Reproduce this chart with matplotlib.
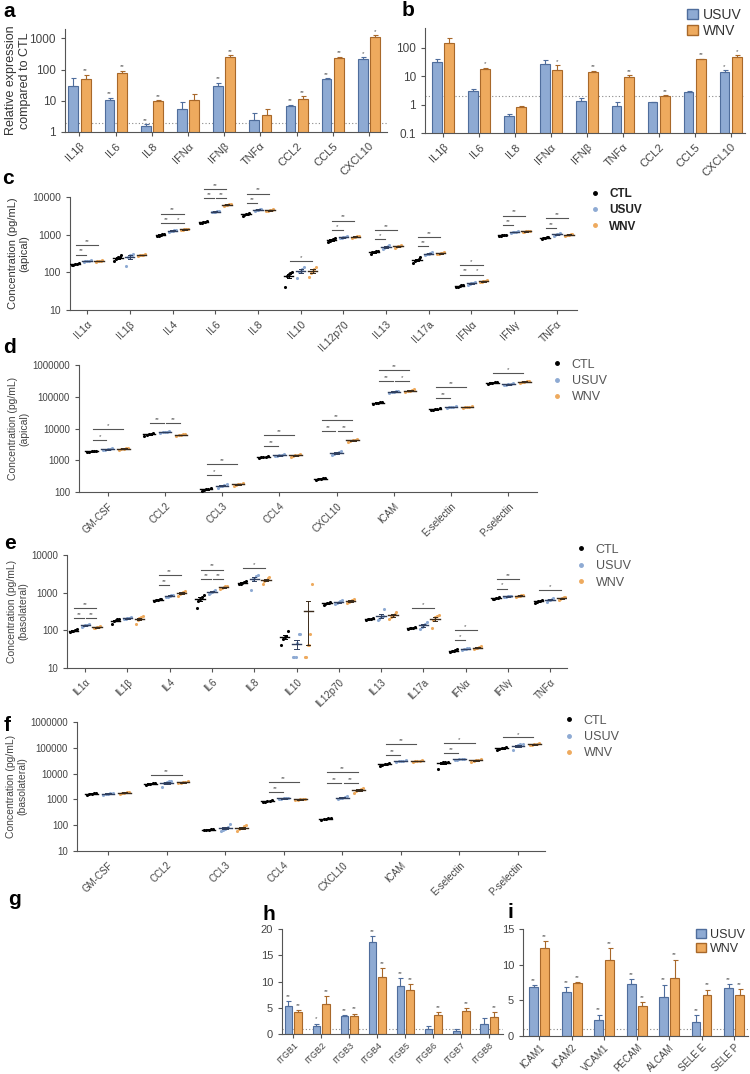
import numpy as np
import matplotlib
matplotlib.use("Agg")
from matplotlib import pyplot as plt
from matplotlib.patches import Patch
from matplotlib.lines import Line2D
from matplotlib.ticker import FixedLocator, NullLocator, FuncFormatter

plt.rcParams["font.family"] = ["Liberation Sans", "DejaVu Sans"]

# ---------------- data ----------------
ab_genes = ["IL1β", "IL6", "IL8", "IFNα", "IFNβ", "TNFα", "CCL2", "CCL5", "CXCL10"]

a_usuv = [30, 11, 1.6, 5.6, 30, 2.5, 7, 50, 215]
a_usuv_err = [23, 1.3, 0.15, 3.4, 7, 1.6, 0.5, 3, 30]
a_wnv = [49, 80, 9.6, 11, 245, 3.4, 11.5, 230, 1120]
a_wnv_err = [18, 10, 0.7, 6, 45, 2.1, 2.5, 30, 140]
a_usuv_sig = ["", "**", "**", "", "**", "", "**", "**", "*"]
a_wnv_sig = ["**", "**", "**", "", "**", "", "**", "**", "*"]

b_usuv = [31.6, 2.9, 0.41, 26, 1.38, 0.87, 1.2, 2.7, 13.8]
b_usuv_err = [10, 0.6, 0.04, 11, 0.27, 0.37, 0.07, 0.4, 2.8]
b_wnv = [149, 18, 0.83, 16, 14.5, 9.7, 2.0, 41, 48]
b_wnv_err = [80, 2, 0.09, 8, 1.2, 1.3, 0.1, 1, 6]
b_usuv_sig = ["", "", "", "", "", "", "", "", "*"]
b_wnv_sig = ["", "*", "", "*", "**", "**", "**", "**", "*"]

cyto = ["IL1α", "IL1β", "IL4", "IL6", "IL8", "IL10", "IL12p70", "IL13",
        "IL17a", "IFNα", "IFNγ", "TNFα"]
adhes = ["GM-CSF", "CCL2", "CCL3", "CCL4", "CXCL10", "ICAM", "E-selectin", "P-selectin"]

c_ctl = [[155, 160, 165, 170, 175], [200, 230, 250, 260, 280], [900, 950, 1000, 1020, 1060],
         [2050, 2100, 2150, 2200, 2250], [3200, 3400, 3500, 3600, 3800], [42, 80, 88, 95, 100],
         [620, 680, 720, 760, 800], [300, 340, 350, 360, 370], [180, 195, 210, 225, 250],
         [40, 42, 43, 45, 47], [900, 940, 960, 990, 1010], [760, 800, 830, 860, 880]]
c_usuv = [[190, 195, 200, 205, 210], [150, 260, 280, 290, 310], [1200, 1250, 1280, 1300, 1350],
          [3900, 4000, 4100, 4150, 4200], [4200, 4400, 4600, 4800, 4900], [70, 100, 110, 125, 140],
          [800, 840, 860, 880, 900], [420, 450, 470, 490, 520], [290, 305, 315, 325, 340],
          [47, 49, 51, 53, 55], [1100, 1150, 1180, 1210, 1250], [950, 990, 1020, 1050, 1080]]
c_wnv = [[190, 195, 200, 205, 210], [270, 280, 290, 295, 300], [1300, 1350, 1380, 1400, 1450],
         [5800, 6000, 6200, 6400, 6600], [4200, 4350, 4500, 4600, 4700], [75, 95, 110, 125, 140],
         [820, 860, 890, 910, 940], [450, 470, 490, 510, 530], [300, 315, 325, 335, 345],
         [54, 56, 58, 60, 62], [1150, 1200, 1220, 1250, 1280], [950, 980, 1000, 1020, 1050]]
c_sig = [[(0, 1, "**"), (0, 2, "**")], [], [(0, 1, "**"), (1, 2, "*"), (0, 2, "**")],
         [(0, 1, "**"), (1, 2, "**"), (0, 2, "**")], [(0, 1, "**"), (0, 2, "**")], [(0, 2, "*")],
         [(0, 1, "*"), (0, 2, "**")], [(0, 1, "*"), (0, 2, "**")], [(0, 1, "**"), (0, 2, "**")],
         [(0, 1, "**"), (1, 2, "*"), (0, 2, "*")], [(0, 1, "**"), (0, 2, "**")],
         [(0, 1, "**"), (0, 2, "**")]]

d_ctl = [[1800, 1870, 1920, 1960, 2000], [6000, 6400, 6600, 6800, 7100], [105, 112, 120, 128, 135],
         [1180, 1230, 1270, 1300, 1340], [245, 255, 265, 270, 280],
         [60000, 63000, 65000, 67000, 70000], [37000, 39000, 40000, 41000, 43000],
         [255000, 265000, 275000, 285000, 295000]]
d_usuv = [[2050, 2150, 2220, 2280, 2350], [7200, 7500, 7800, 8000, 8300], [135, 150, 160, 170, 180],
          [1350, 1400, 1440, 1480, 1520], [1500, 1600, 1700, 1800, 1900],
          [135000, 140000, 145000, 150000, 155000], [45000, 47000, 48000, 49000, 51000],
          [230000, 240000, 250000, 260000, 270000]]
d_wnv = [[2150, 2250, 2330, 2400, 2480], [5800, 6100, 6300, 6500, 6800], [160, 170, 178, 185, 195],
         [1300, 1400, 1440, 1480, 1560], [3800, 4100, 4300, 4500, 4800],
         [140000, 150000, 155000, 160000, 170000], [45000, 47000, 48000, 49000, 51000],
         [270000, 285000, 295000, 305000, 320000]]
d_sig = [[(0, 1, "*"), (0, 2, "*")], [(0, 1, "**"), (1, 2, "**")], [(0, 1, "*"), (0, 2, "**")],
         [(0, 1, "**"), (0, 2, "**")], [(0, 1, "**"), (1, 2, "**"), (0, 2, "**")],
         [(0, 1, "**"), (1, 2, "*"), (0, 2, "**")], [(0, 1, "**"), (0, 2, "**")], [(0, 2, "*")]]

e_ctl = [[90, 95, 98, 102, 106], [150, 175, 185, 195, 205], [600, 630, 650, 670, 700],
         [400, 600, 700, 780, 850], [1650, 1750, 1850, 1950, 2050], [40, 60, 65, 70, 95],
         [470, 500, 520, 540, 570], [190, 195, 200, 205, 210], [108, 112, 115, 118, 122],
         [27, 28, 29, 30, 31], [680, 700, 720, 740, 760], [540, 570, 590, 610, 640]]
e_usuv = [[125, 130, 135, 140, 145], [195, 205, 210, 215, 230], [760, 790, 820, 850, 880],
          [950, 1000, 1060, 1100, 1150], [1200, 2300, 2500, 2700, 3000], [20, 20, 20, 45, 80, 80],
          [500, 530, 560, 590, 620], [190, 205, 220, 240, 370], [110, 120, 130, 150, 170],
          [30, 31, 32, 33, 34], [760, 780, 800, 820, 840], [560, 620, 650, 690, 720]]
e_wnv = [[112, 116, 120, 124, 128], [150, 190, 210, 225, 235], [800, 900, 970, 1050, 1100],
         [1250, 1330, 1400, 1460, 1520], [1700, 2000, 2200, 2400, 2600], [20, 20, 40, 40, 80, 1700],
         [520, 560, 600, 640, 680], [200, 225, 245, 270, 300], [115, 190, 220, 240, 260],
         [31, 33, 34, 36, 38], [790, 810, 830, 850, 870], [650, 690, 720, 750, 780]]
e_sig = [[(0, 1, "**"), (1, 2, "**"), (0, 2, "**")], [], [(0, 1, "**"), (0, 2, "**")],
         [(0, 1, "**"), (1, 2, "**"), (0, 2, "**")], [(0, 2, "*")], [], [], [], [(0, 2, "*")],
         [(0, 1, "*"), (0, 2, "*")], [(0, 1, "*"), (0, 2, "**")], [(0, 2, "*")]]

f_ctl = [[1450, 1550, 1660, 1750, 1850], [3700, 3900, 4100, 4300, 4400], [64, 66, 68, 70, 72],
         [780, 820, 860, 900, 940], [160, 168, 175, 182, 190], [20000, 22000, 23000, 24000, 26000],
         [15600, 26000, 27000, 28000, 29000], [85000, 90000, 94000, 98000, 103000]]
f_usuv = [[1500, 1580, 1660, 1740, 1820], [3000, 4500, 4800, 5000, 5200], [62, 68, 74, 82, 110],
          [1000, 1050, 1090, 1130, 1180], [1050, 1100, 1160, 1220, 1300],
          [29000, 30000, 31000, 32000, 33000], [34000, 35000, 36000, 37000, 38000],
          [85000, 115000, 125000, 135000, 145000]]
f_wnv = [[1650, 1730, 1800, 1870, 1950], [4200, 4400, 4600, 4800, 5000], [62, 70, 80, 90, 100],
         [920, 960, 1000, 1040, 1080], [1700, 2100, 2300, 2500, 2700],
         [29000, 30000, 31000, 32000, 33000], [28000, 31000, 33000, 35000, 37000],
         [125000, 132000, 138000, 145000, 152000]]
f_sig = [[], [(0, 2, "**")], [], [(0, 1, "**"), (0, 2, "**")],
         [(0, 1, "**"), (1, 2, "**"), (0, 2, "**")], [(0, 1, "**"), (0, 2, "**")],
         [(0, 1, "**"), (0, 2, "*")], [(0, 2, "*")]]

h_genes = ["ITGB1", "ITGB2", "ITGB3", "ITGB4", "ITGB5", "ITGB6", "ITGB7", "ITGB8"]
h_usuv = [5.4, 1.6, 3.4, 17.6, 9.1, 0.9, 0.6, 1.9]
h_usuv_err = [0.8, 0.4, 0.2, 1.0, 1.5, 0.6, 0.3, 1.2]
h_wnv = [4.1, 5.7, 3.5, 10.9, 8.3, 3.7, 4.4, 3.3]
h_wnv_err = [0.5, 1.6, 0.4, 1.7, 1.2, 0.5, 0.5, 0.8]
h_usuv_sig = ["**", "*", "**", "**", "**", "", "", ""]
h_wnv_sig = ["**"] * 8

i_genes = ["ICAM1", "ICAM2", "VCAM1", "PECAM", "ALCAM", "SELE E", "SELE P"]
i_usuv = [6.8, 6.2, 2.3, 7.3, 5.4, 1.9, 6.7]
i_usuv_err = [0.3, 0.6, 0.7, 0.7, 1.8, 1.0, 0.6]
i_wnv = [12.3, 7.4, 10.7, 4.2, 8.2, 5.8, 5.8]
i_wnv_err = [1.0, 0.15, 1.6, 0.5, 2.5, 0.7, 0.8]
i_usuv_sig = ["**"] * 7
i_wnv_sig = ["**"] * 7

# ---------------- style ----------------
BLUE, BLUE_E = "#8eaad3", "#4f6d9c"
ORANGE, ORANGE_E = "#eeaa5e", "#a8682a"
GREY = "#555555"

W, H = 750, 1074
fig = plt.figure(figsize=(W / 100, H / 100), dpi=100)


def box(l, t, r, b):
    return [l / W, 1 - b / H, (r - l) / W, (b - t) / H]


def style(ax, fs):
    for s in ["top", "right"]:
        ax.spines[s].set_visible(False)
    for s in ["left", "bottom"]:
        ax.spines[s].set_color(GREY)
        ax.spines[s].set_linewidth(0.8)
    ax.tick_params(colors=GREY, labelcolor="#444444", labelsize=fs, length=3, width=0.8)


def logfmt(v, p):
    return "%g" % v if v < 1 else "%d" % round(v)


def set_logy(ax, ticks, lim):
    ax.set_yscale("log")
    ax.set_ylim(*lim)
    ax.yaxis.set_major_locator(FixedLocator(ticks))
    ax.yaxis.set_minor_locator(NullLocator())
    ax.yaxis.set_major_formatter(FuncFormatter(logfmt))


def xlabels(ax, names, fs):
    ax.set_xticks(np.arange(len(names)))
    ax.set_xticklabels(names, rotation=45, ha="right", rotation_mode="anchor", fontsize=fs)


def bar_panel(ax, genes, usuv, usuv_err, wnv, wnv_err, usuv_sig, wnv_sig, log, soff, ref):
    x = np.arange(len(genes))
    for off, vals, errs, sig, fc, ec in [(-0.17, usuv, usuv_err, usuv_sig, BLUE, BLUE_E),
                                         (0.17, wnv, wnv_err, wnv_sig, ORANGE, ORANGE_E)]:
        ax.bar(x + off, vals, width=0.27, color=fc, edgecolor=ec, linewidth=0.8, zorder=2)
        ax.errorbar(x + off, vals, yerr=[np.zeros(len(vals)), errs], fmt="none",
                    ecolor=ec, elinewidth=0.8, capsize=1.8, capthick=0.8, zorder=2)
        for xi, v, e, s in zip(x + off, vals, errs, sig):
            top = v + e
            y = top * soff if log else top + soff
            ax.text(xi, y, s, ha="center", va="bottom", fontsize=4.5, color=GREY)
    ax.axhline(ref, color="#888888", lw=0.8, ls=(0, (1, 2)), zorder=1)


def dot_panel(ax, names, groups, sigs, offs):
    cols = ["black", BLUE, ORANGE]
    mcols = ["black", "#2f3f5f", "#3a2a1a"]
    for k, data in enumerate(groups):
        for i, vals in enumerate(data):
            xc = i + (k - 1) * 0.28
            xs = xc + np.linspace(-0.08, 0.08, len(vals))
            ax.scatter(xs, vals, s=5, color=cols[k], linewidths=0, zorder=3, clip_on=False)
            m = np.mean(vals)
            sem = np.std(vals, ddof=1) / np.sqrt(len(vals))
            lo = max(m - sem, 1e-3)
            ax.plot([xc - 0.11, xc + 0.11], [m, m], color=mcols[k], lw=1.0, zorder=4)
            ax.plot([xc, xc], [lo, m + sem], color=mcols[k], lw=0.7, zorder=4, clip_on=True)
            ax.plot([xc - 0.05, xc + 0.05], [m + sem, m + sem], color=mcols[k], lw=0.7, zorder=4)
            ax.plot([xc - 0.05, xc + 0.05], [lo, lo], color=mcols[k], lw=0.7, zorder=4)
    for i, lst in enumerate(sigs):
        top = max(max(g[i]) for g in groups)
        has_short = any(p[:2] != (0, 2) for p in lst)
        for a, b, lab in lst:
            lvl = offs[1] if ((a, b) == (0, 2) and has_short) else offs[0]
            y = top * 10 ** lvl
            x0 = i + (a - 1) * 0.28 + 0.02
            x1 = i + (b - 1) * 0.28 - 0.02
            ax.plot([x0, x1], [y, y], color=GREY, lw=0.8, clip_on=False)
            ax.text((x0 + x1) / 2, y * 10 ** 0.03, lab, ha="center", va="bottom",
                    fontsize=4.5, color=GREY, clip_on=False)


def bar_legend(x, y, fs):
    fig.legend(handles=[Patch(facecolor=BLUE, edgecolor=BLUE_E, label="USUV"),
                        Patch(facecolor=ORANGE, edgecolor=ORANGE_E, label="WNV")],
               loc="upper left", bbox_to_anchor=(x / W, 1 - y / H), frameon=False,
               fontsize=fs, handlelength=0.8, handleheight=0.8, handletextpad=0.35,
               labelspacing=0.15, borderpad=0.2, borderaxespad=0, labelcolor="#333333")


def dot_legend(x, y, fs, bold=False):
    hs = [Line2D([], [], ls="none", marker="o", ms=2.5, color=c, label=l)
          for c, l in zip(["black", BLUE, ORANGE], ["CTL", "USUV", "WNV"])]
    leg = fig.legend(handles=hs, loc="upper left", bbox_to_anchor=(x / W, 1 - y / H),
                     frameon=False, fontsize=fs, handlelength=0.8, handletextpad=0.8,
                     labelspacing=0.35, borderpad=0.2,
                     labelcolor="#222222" if bold else "#555555")
    if bold:
        for t in leg.get_texts():
            t.set_fontweight("bold")


# ---------------- panel a ----------------
ax = fig.add_axes(box(65, 29, 387, 132))
set_logy(ax, [1, 10, 100, 1000], (1, 2000))
bar_panel(ax, ab_genes, a_usuv, a_usuv_err, a_wnv, a_wnv_err, a_usuv_sig, a_wnv_sig,
          True, 1.12, 2)
ax.set_xlim(-0.4, 8.5)
xlabels(ax, ab_genes, 8)
style(ax, 8.5)
ax.tick_params(axis="x", labelsize=8)
ax.set_ylabel("Relative expression\ncompared to CTL", fontsize=9, color="#333333")
ax.yaxis.set_label_coords(-0.105, 0.5)

# ---------------- panel b ----------------
ax = fig.add_axes(box(425, 28, 745, 133))
set_logy(ax, [0.1, 1, 10, 100], (0.1, 500))
bar_panel(ax, ab_genes, b_usuv, b_usuv_err, b_wnv, b_wnv_err, b_usuv_sig, b_wnv_sig,
          True, 1.12, 2)
ax.set_xlim(-0.5, 8.4)
xlabels(ax, ab_genes, 8)
style(ax, 8.5)
ax.tick_params(axis="x", labelsize=8)
bar_legend(684, 5, 10)

# ---------------- panel c ----------------
ax = fig.add_axes(box(70, 197, 577, 310))
set_logy(ax, [10, 100, 1000, 10000], (10, 10000))
dot_panel(ax, cyto, [c_ctl, c_usuv, c_wnv], c_sig, (0.15, 0.4))
ax.set_xlim(-0.4, 11.47)
xlabels(ax, cyto, 7.5)
style(ax, 7.5)
ax.set_ylabel("Concentration (pg/mL)\n(apical)", fontsize=8, color="#333333", labelpad=2)
dot_legend(582, 180, 8.5, bold=True)

# ---------------- panel d ----------------
ax = fig.add_axes(box(79, 365, 537, 492))
set_logy(ax, [100, 1000, 10000, 100000, 1000000], (100, 1000000))
dot_panel(ax, adhes, [d_ctl, d_usuv, d_wnv], d_sig, (0.25, 0.6))
ax.set_xlim(-0.5, 7.5)
xlabels(ax, adhes, 7)
style(ax, 7)
ax.set_ylabel("Concentration (pg/mL)\n(apical)", fontsize=7.5, color="#444444", labelpad=2)
dot_legend(543, 350, 9)

# ---------------- panel e ----------------
ax = fig.add_axes(box(67, 555, 567, 668))
set_logy(ax, [10, 100, 1000, 10000], (10, 10000))
dot_panel(ax, cyto, [e_ctl, e_usuv, e_wnv], e_sig, (0.17, 0.43))
ax.set_xlim(-0.43, 11.4)
xlabels(ax, cyto, 7)
style(ax, 7)
ax.set_ylabel("Concentration (pg/mL)\n(basolateral)", fontsize=7.5, color="#444444", labelpad=2)
dot_legend(567, 535, 9)

# ---------------- panel f ----------------
ax = fig.add_axes(box(77, 722, 545, 851))
set_logy(ax, [10, 100, 1000, 10000, 100000, 1000000], (10, 1000000))
dot_panel(ax, adhes, [f_ctl, f_usuv, f_wnv], f_sig, (0.22, 0.62))
ax.set_xlim(-0.53, 7.46)
xlabels(ax, adhes, 7)
style(ax, 7)
ax.set_ylabel("Concentration (pg/mL)\n(basolateral)", fontsize=7.5, color="#444444", labelpad=2)
dot_legend(555, 706, 9)

# ---------------- panel h ----------------
ax = fig.add_axes(box(282, 929, 503, 1034))
bar_panel(ax, h_genes, h_usuv, h_usuv_err, h_wnv, h_wnv_err, h_usuv_sig, h_wnv_sig,
          False, 0.4, 1)
ax.set_ylim(0, 20)
ax.set_yticks([0, 5, 10, 15, 20])
ax.set_xlim(-0.4, 7.5)
xlabels(ax, h_genes, 6.5)
style(ax, 8)
ax.tick_params(axis="x", labelsize=6.5, pad=1.5)

# ---------------- panel i ----------------
ax = fig.add_axes(box(523, 929, 748, 1036))
bar_panel(ax, i_genes, i_usuv, i_usuv_err, i_wnv, i_wnv_err, i_usuv_sig, i_wnv_sig,
          False, 0.3, 1)
ax.set_ylim(0, 15)
ax.set_yticks([0, 5, 10, 15])
ax.set_xlim(-0.5, 6.43)
xlabels(ax, i_genes, 7)
style(ax, 8)
ax.tick_params(axis="x", labelsize=7, pad=1.5)
bar_legend(693, 926, 9)

# ---------------- panel letters ----------------
for lab, x, y in [("a", 3, 17), ("b", 402, 16), ("c", 2, 184), ("d", 3, 353),
                  ("e", 4, 549), ("f", 4, 731), ("g", 8, 905), ("h", 263, 920),
                  ("i", 507, 918)]:
    fig.text(x / W, 1 - y / H, lab, fontsize=15, fontweight="bold", va="baseline",
             ha="left", color="black")

fig.savefig("out.png", dpi=100)
